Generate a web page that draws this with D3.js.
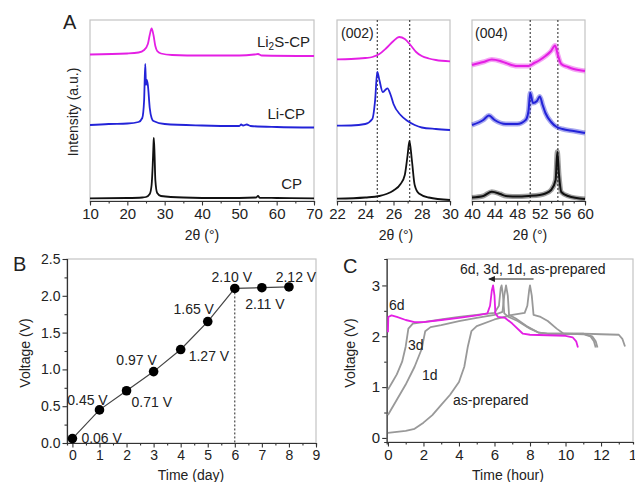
<!DOCTYPE html>
<html>
<head>
<meta charset="utf-8">
<script src="https://cdn.jsdelivr.net/npm/d3@7"></script>
<style>
  body { margin: 0; background: #fff; }
  svg text { font-family: "Liberation Sans", Arial, sans-serif; fill: #222; }
</style>
</head>
<body>
<div id="chart"></div>
<script>
// XRD patterns, panel A (2θ in degrees, intensity in a.u. incl. vertical offset)
const xrdCP     = [[10,2.7],[20,3],[24,3.5],[25,4],[26,7],[26.5,16],[26.8,36],[27.0,56],[27.1,63],[27.3,46],[27.5,21],[28,8],[29,5],[35,3.5],[45,3],[50,3],[54.5,3.5],[55,5],[55.5,3.2],[60,3],[70,2.7]];
const xrdLiCP   = [[10,76],[15,77],[20,77.5],[23,79],[24,83],[24.5,101],[24.8,137],[25.0,116],[25.2,121],[25.5,116],[26,93],[26.5,83],[27,80],[30,77],[40,75.5],[50,75],[50.5,76.5],[51,75.5],[52,76.5],[53,75],[60,74],[70,73.5]];
const xrdLi2SCP = [[10,146.5],[20,147.5],[23,148.5],[24.5,151],[25.5,157],[26,166],[26.5,172.5],[27,166],[27.5,155],[28,150],[29,147.5],[32,146],[40,145.5],[50,145.5],[54,146.5],[55,147],[56,145.5],[70,145]];

// (002) zoom
const p002CP     = [[22,2.3],[24,3.5],[25,5],[25.5,7],[26,10.5],[26.5,17],[26.8,26],[27.0,46],[27.13,60],[27.3,41],[27.5,16],[27.8,7.5],[28.5,3.5],[30,1]];
const p002LiCP   = [[22,75.3],[23,75.5],[24,77],[24.5,82],[24.7,101],[24.85,129],[25.0,121],[25.24,109],[25.57,112.7],[25.8,106],[26.0,97],[26.5,86],[27,80],[27.5,76],[28,73.5],[29,72],[30,71]];
const p002Li2SCP = [[22,141.7],[23,142],[24,143],[24.5,144],[25,147],[25.5,153],[26,160],[26.4,164],[26.8,162],[27.2,156],[27.6,149],[28,145],[28.5,142.5],[29,141],[30,139.7]];
const p002Lines  = [24.85, 27.15];

// (004) zoom
const p004CP     = [[40,3.5],[42,5],[43.5,9.3],[45,7],[46,5],[48,4.5],[50,5],[52,6],[53,7.5],[54,11],[54.8,21],[55.1,49.3],[55.4,26],[55.8,9],[57,5],[60,2]];
const p004LiCP   = [[40,76],[42,81],[43,85.5],[44,81],[46,77],[48,77],[49.5,81],[50,90],[50.3,108],[50.8,98],[51.5,100],[52,104.5],[52.5,96],[53,88],[54,79],[55,74],[56,72],[58,70],[60,68]];
const p004Li2SCP = [[40,136],[42,139],[43.5,141.5],[45,140],[46,138],[48,135],[50,135],[51,138],[52,141],[53,145],[54,150],[54.7,155.5],[55.2,146],[55.8,137],[57,134],[58,132],[60,130]];
const p004Lines  = [50.3, 55.2];

// Panel B: open-circuit voltage vs time
const days     = [0, 1, 2, 3, 4, 5, 6, 7, 8];
const voltages = [0.06, 0.45, 0.71, 0.97, 1.27, 1.65, 2.10, 2.11, 2.12];

// Panel C: charge/discharge curves (hour, V)
const curve6d  = [[0,2.08],[0.02,2.38],[0.2,2.41],[0.5,2.38],[1,2.32],[1.5,2.28],[2,2.28],[3,2.32],[4,2.36],[5,2.41],[5.6,2.45],[5.75,2.6],[5.85,2.9],[5.92,3.0],[6.0,2.8],[6.05,2.45],[6.2,2.38],[6.6,2.36],[7,2.25],[7.6,2.05],[8,2.03],[9,2.02],[10,2.01],[10.4,1.98],[10.6,1.9],[10.7,1.78]];
const curve3d  = [[0,0.95],[0.25,1.1],[0.5,1.25],[0.8,1.5],[1.0,1.8],[1.15,2.15],[1.4,2.25],[2,2.28],[3,2.33],[4,2.38],[5,2.42],[6,2.46],[6.25,2.6],[6.35,2.95],[6.4,3.0],[6.48,2.8],[6.55,2.45],[6.8,2.38],[7.3,2.3],[8,2.15],[8.5,2.07],[9,2.05],[10,2.05],[11,2.04],[11.4,2.0],[11.6,1.9],[11.7,1.78]];
const curve1d  = [[0,0.45],[0.5,0.75],[1,1.05],[1.5,1.4],[1.9,1.75],[2.1,2.1],[2.4,2.18],[3,2.22],[4,2.3],[5,2.36],[6,2.42],[6.45,2.48],[6.55,2.8],[6.65,3.0],[6.75,2.8],[6.82,2.42],[7.2,2.35],[7.8,2.2],[8.5,2.07],[9,2.05],[10,2.05],[11,2.05],[11.5,2.0],[11.7,1.9],[11.8,1.78]];
const curveAsP = [[0,0.1],[0.5,0.12],[1,0.14],[1.5,0.18],[2,0.3],[2.5,0.45],[3,0.65],[3.5,0.85],[4,1.1],[4.3,1.4],[4.5,1.8],[4.7,2.1],[5,2.2],[6,2.33],[7,2.42],[7.7,2.46],[7.85,2.6],[7.95,2.9],[8.0,3.0],[8.1,2.8],[8.2,2.42],[8.6,2.38],[9,2.3],[9.5,2.15],[9.9,2.05],[11,2.05],[12,2.04],[13,2.03],[13.2,1.95],[13.35,1.8]];

const MAGENTA = "#e41fe4";
const BLUE    = "#2323d8";
const BLACK   = "#111";
const GRAY    = "#999";
const FRAME   = "#c4c4c4";

const svg = d3.select("#chart").append("svg")
  .attr("width", 635).attr("height", 482);

function frame(x0, y0, x1, y1) {
  svg.append("rect")
    .attr("x", x0).attr("y", y0)
    .attr("width", x1 - x0).attr("height", y1 - y0)
    .attr("fill", "none").attr("stroke", FRAME).attr("stroke-width", 1.2);
}

function styleAxis(sel, size) {
  sel.selectAll("path").attr("stroke", "#333").attr("stroke-width", 1.2);
  sel.selectAll("line").attr("stroke", "#333").attr("stroke-width", 1.1);
  sel.selectAll("text").style("font-size", size + "px").attr("fill", "#222");
}

function xAxis(scale, y, majors, minors, size, fmt) {
  const g = svg.append("g").attr("transform", `translate(0,${y})`);
  g.call(d3.axisBottom(scale).tickValues(minors).tickSize(2.5).tickFormat(""));
  const gm = svg.append("g").attr("transform", `translate(0,${y})`);
  gm.call(d3.axisBottom(scale).tickValues(majors).tickSize(4.5).tickPadding(3).tickFormat(fmt || d3.format("d")));
  gm.select(".domain").remove();
  styleAxis(g, size); styleAxis(gm, size);
}

function yAxis(scale, x, majors, minors, size, fmt) {
  const g = svg.append("g").attr("transform", `translate(${x},0)`);
  g.call(d3.axisLeft(scale).tickValues(minors).tickSize(2.5).tickFormat(""));
  const gm = svg.append("g").attr("transform", `translate(${x},0)`);
  gm.call(d3.axisLeft(scale).tickValues(majors).tickSize(4.5).tickPadding(2).tickFormat(fmt || d3.format("d")));
  gm.select(".domain").remove();
  styleAxis(g, size); styleAxis(gm, size);
}

function drawLine(data, x, y, color, width, curve) {
  svg.append("path")
    .datum(data)
    .attr("fill", "none")
    .attr("stroke", color)
    .attr("stroke-width", width)
    .attr("stroke-linejoin", "round")
    .attr("d", d3.line().x(d => x(d[0])).y(d => y(d[1])).curve(curve || d3.curveMonotoneX));
}

function text(x, y, str, opts = {}) {
  const t = svg.append("text")
    .attr("x", x).attr("y", y)
    .attr("text-anchor", opts.anchor || "start")
    .style("font-size", (opts.size || 14) + "px")
    .text(str);
  if (opts.color) t.attr("fill", opts.color);
  if (opts.rotate) t.attr("transform", `rotate(-90,${x},${y})`);
  return t;
}

// ---------- Panel A ----------
const yA = d3.scaleLinear().domain([0, 181]).range([201, 20]);

const xMain = d3.scaleLinear().domain([10, 70]).range([90, 314]);
frame(90, 20, 314, 201);
drawLine(xrdCP, xMain, yA, BLACK, 1.8);
drawLine(xrdLiCP, xMain, yA, BLUE, 1.8);
drawLine(xrdLi2SCP, xMain, yA, MAGENTA, 1.8);
xAxis(xMain, 201, d3.range(10, 71, 10), d3.range(15, 70, 10), 15);

const x002 = d3.scaleLinear().domain([22, 30]).range([337, 450]);
frame(337, 20, 450, 201);
p002Lines.forEach(v => svg.append("line")
  .attr("x1", x002(v)).attr("x2", x002(v)).attr("y1", 20).attr("y2", 201)
  .attr("stroke", "#222").attr("stroke-width", 1).attr("stroke-dasharray", "2,2"));
drawLine(p002CP, x002, yA, BLACK, 1.8);
drawLine(p002LiCP, x002, yA, BLUE, 1.8);
drawLine(p002Li2SCP, x002, yA, MAGENTA, 1.8);
xAxis(x002, 201, d3.range(22, 31, 2), d3.range(23, 30, 2), 15);

const x004 = d3.scaleLinear().domain([40, 60]).range([472, 585]);
frame(472, 20, 585, 201);
p004Lines.forEach(v => svg.append("line")
  .attr("x1", x004(v)).attr("x2", x004(v)).attr("y1", 20).attr("y2", 201)
  .attr("stroke", "#222").attr("stroke-width", 1).attr("stroke-dasharray", "2,2"));
// noisy traces: wide faint band plus core line
[[p004CP, BLACK], [p004LiCP, BLUE], [p004Li2SCP, MAGENTA]].forEach(([d, c]) => {
  svg.append("path").datum(d).attr("fill", "none").attr("stroke", c)
    .attr("stroke-width", 5).attr("stroke-opacity", 0.4)
    .attr("d", d3.line().x(p => x004(p[0])).y(p => yA(p[1])).curve(d3.curveMonotoneX));
  drawLine(d, x004, yA, c, 2);
});
xAxis(x004, 201, d3.range(40, 61, 4), d3.range(42, 60, 4), 15);

text(63, 29, "A", { size: 20 });
text(78, 112, "Intensity (a.u.)", { anchor: "middle", rotate: true });
text(202, 240, "2θ (°)", { anchor: "middle" });
text(396, 240, "2θ (°)", { anchor: "middle" });
text(530, 240, "2θ (°)", { anchor: "middle" });
text(341, 38, "(002)", { size: 14 });
text(475, 38, "(004)", { size: 14 });

const l2 = text(310, 47, "", { anchor: "end", size: 15, color: MAGENTA });
l2.append("tspan").text("Li");
l2.append("tspan").attr("dy", 3).style("font-size", "10px").text("2");
l2.append("tspan").attr("dy", -3).text("S-CP");
text(305, 119, "Li-CP", { anchor: "end", size: 15, color: BLUE });
text(302, 189, "CP", { anchor: "end", size: 15, color: BLACK });

// ---------- Panel B ----------
const xB = d3.scaleLinear().domain([-0.2, 9]).range([67, 316]);
const yB = d3.scaleLinear().domain([0, 2.5]).range([443, 259]);
frame(67, 259, 316, 443);
xAxis(xB, 443, d3.range(0, 10), d3.range(0.5, 9, 1), 14);
yAxis(yB, 67, d3.range(0, 2.51, 0.5), d3.range(0.25, 2.5, 0.5), 14, d3.format(".1f"));

svg.append("line")
  .attr("x1", xB(6)).attr("x2", xB(6)).attr("y1", yB(voltages[6])).attr("y2", yB(0))
  .attr("stroke", "#222").attr("stroke-width", 1).attr("stroke-dasharray", "2,2");

const ptsB = days.map((d, i) => [d, voltages[i]]);
svg.append("path").datum(ptsB)
  .attr("fill", "none").attr("stroke", "#444").attr("stroke-width", 1.2)
  .attr("d", d3.line().x(d => xB(d[0])).y(d => yB(d[1])));
svg.append("g").selectAll("circle").data(ptsB).join("circle")
  .attr("cx", d => xB(d[0])).attr("cy", d => yB(d[1])).attr("r", 4.8).attr("fill", "#000");

// label offsets (dx, center dy, anchor) per point
const labelPlacement = [
  [9, -1, "start"], [-12, -10, "middle"], [5, 11, "start"], [-17, -12, "middle"],
  [8, 6.5, "start"], [-14, -12.5, "middle"], [-3, -11.5, "middle"], [3, 16, "middle"], [7, -10, "middle"]
];
ptsB.forEach((d, i) => {
  const [dx, dy, anchor] = labelPlacement[i];
  text(xB(d[0]) + dx, yB(d[1]) + dy + 5, d[1].toFixed(2) + " V", { anchor, size: 14 });
});

text(13, 271, "B", { size: 20 });
text(30, 353, "Voltage (V)", { anchor: "middle", rotate: true });
text(191, 480, "Time (day)", { anchor: "middle" });

// ---------- Panel C ----------
const xC = d3.scaleLinear().domain([-0.07, 13.8]).range([386.7, 633]);
const yC = d3.scaleLinear().domain([-0.08, 3.52]).range([442, 259]);
frame(386.7, 259, 633, 442);
xAxis(xC, 442, d3.range(0, 15, 2), d3.range(1, 14, 2), 15);
yAxis(yC, 386.7, [0, 1, 2, 3], [0.5, 1.5, 2.5], 15);

drawLine(curveAsP, xC, yC, GRAY, 1.8, d3.curveLinear);
drawLine(curve1d, xC, yC, GRAY, 1.8, d3.curveLinear);
drawLine(curve3d, xC, yC, GRAY, 1.8, d3.curveLinear);
drawLine(curve6d, xC, yC, MAGENTA, 1.8, d3.curveLinear);

svg.append("defs").append("marker")
  .attr("id", "arrowC").attr("viewBox", "0 -5 10 10")
  .attr("refX", 8).attr("refY", 0)
  .attr("markerWidth", 6).attr("markerHeight", 6).attr("orient", "auto")
  .append("path").attr("d", "M0,-4L10,0L0,4").attr("fill", "#222");
svg.append("line")
  .attr("x1", xC(8.2)).attr("x2", xC(5.7)).attr("y1", 279).attr("y2", 279)
  .attr("stroke", "#222").attr("stroke-width", 1.2).attr("marker-end", "url(#arrowC)");

text(460, 274, "6d, 3d, 1d, as-prepared", { size: 14 });
text(389, 310, "6d", { size: 14 });
text(408, 350, "3d", { size: 14 });
text(422, 380, "1d", { size: 14 });
text(453, 405, "as-prepared", { size: 14 });

text(343, 273, "C", { size: 20 });
text(355, 353, "Voltage (V)", { anchor: "middle", rotate: true });
text(508, 480, "Time (hour)", { anchor: "middle" });
</script>
</body>
</html>
